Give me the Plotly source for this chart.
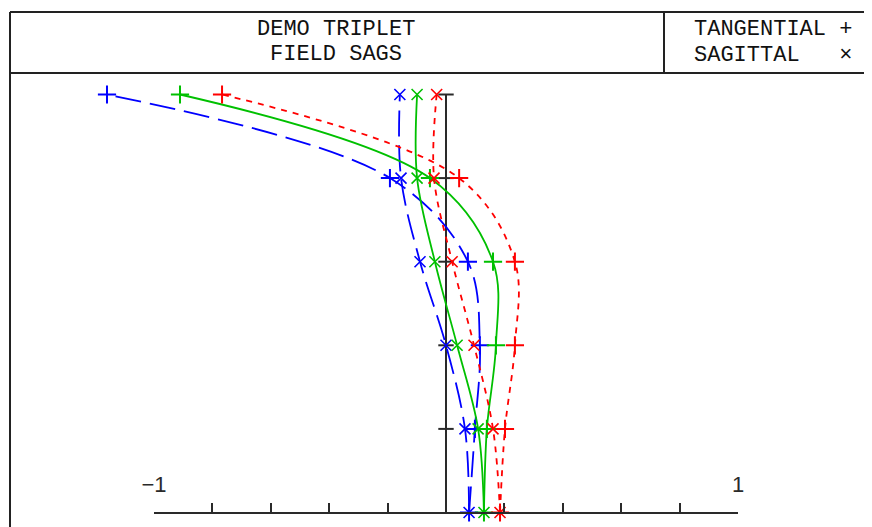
import plotly.graph_objects as go

# ---- data ----
fields = [0.0, 0.2, 0.4, 0.6, 0.8, 1.0]
tan_blue = [0.079, 0.099, 0.116, 0.075, -0.192, -1.161]
sag_blue = [0.079, 0.065, 0.000, -0.089, -0.154, -0.158]
tan_green = [0.130, 0.140, 0.171, 0.161, -0.055, -0.911]
sag_green = [0.130, 0.110, 0.038, -0.038, -0.099, -0.099]
tan_red = [0.185, 0.202, 0.236, 0.236, 0.045, -0.767]
sag_red = [0.185, 0.161, 0.096, 0.021, -0.041, -0.032]
x_ticks = [-1.0, -0.8, -0.6, -0.4, -0.2, 0.0, 0.2, 0.4, 0.6, 0.8, 1.0]
x_tick_labels = ["\u22121", "1"]
x_label_vals = [-1.0, 1.0]
field_ticks = [0.2, 0.4, 0.6, 0.8, 1.0]
title_lines = ["DEMO TRIPLET", "FIELD SAGS"]
legend_lines = ["TANGENTIAL +", "SAGITTAL   \u00d7"]

OFF = 8                      # page body margin
WIN_W, WIN_H = 872, 527
W, H = WIN_W - OFF, WIN_H - OFF
AX = "#2a2a2a"
MONO = "Liberation Mono, DejaVu Sans Mono, monospace"

def px(x):
    return (x - OFF) / W

def py(y):
    return 1 - (y - OFF) / H

# pixel geometry (window pixels) of the plotting scale
X0, XS = 446.0, 292.0     # x=0 pixel, pixels per unit
Y0, YS = 512.5, 418.0     # y=0 pixel, pixels per unit
left_px, right_px = 11.0, 872.0
top_px, bot_px = 75.0, 525.0
xr = [(left_px - X0) / XS, (right_px - X0) / XS]
yr = [(Y0 - bot_px) / YS, (Y0 - top_px) / YS]

fig = go.Figure()

series = [
    ("#0000ff", tan_blue, sag_blue, "26px,9px"),
    ("#00c000", tan_green, sag_green, "solid"),
    ("#ff0000", tan_red, sag_red, "6px,6px"),
]

# vertical (field) axis
fig.add_trace(go.Scatter(x=[0.0, 0.0], y=[0.0, 1.0], mode="lines",
                         line=dict(color=AX, width=2), hoverinfo="skip",
                         showlegend=False))
fig.add_trace(go.Scatter(x=[0.0] * len(field_ticks), y=field_ticks, mode="markers",
                         marker=dict(symbol="line-ew", size=11,
                                     line=dict(color=AX, width=2)),
                         cliponaxis=False, hoverinfo="skip", showlegend=False))

for color, tan, sag, dash in series:
    for vals, sym, size, lw in ((tan, "cross-thin", 13, 2), (sag, "x-thin", 11, 1.6)):
        fig.add_trace(go.Scatter(
            x=vals, y=fields, mode="lines",
            line=dict(color=color, width=1.8, dash=dash, shape="spline", smoothing=1.0),
            hoverinfo="skip", showlegend=False))
        fig.add_trace(go.Scatter(
            x=vals, y=fields, mode="markers",
            marker=dict(symbol=sym, size=size, line=dict(color=color, width=lw)),
            cliponaxis=False, hoverinfo="skip", showlegend=False))

# bottom axis labels on the [-1, 1] axis
fig.add_trace(go.Scatter(
    x=x_label_vals, y=[(Y0 - 486) / YS] * 2, mode="text", text=x_tick_labels,
    textfont=dict(family="Liberation Sans, Arial, sans-serif", size=22, color=AX),
    xaxis="x2", yaxis="y", cliponaxis=False, hoverinfo="skip", showlegend=False))

fig.update_layout(
    width=W, height=H,
    margin=dict(l=0, r=0, t=0, b=0),
    paper_bgcolor="white", plot_bgcolor="rgba(0,0,0,0)",
    xaxis=dict(domain=[px(left_px), px(right_px)], range=xr, visible=False),
    yaxis=dict(domain=[py(bot_px), py(top_px)], range=yr, visible=False),
    xaxis2=dict(domain=[px(X0 - XS), px(X0 + XS)], range=[-1, 1],
                anchor="free", position=py(Y0), showline=True, linecolor=AX,
                linewidth=2, ticks="inside", tickvals=x_ticks, ticklen=9,
                tickwidth=2, tickcolor=AX, showticklabels=False,
                showgrid=False, zeroline=False),
)

# frame
line = dict(color="#222222", width=2)
shapes = [
    dict(type="line", xref="paper", yref="paper", x0=px(10), x1=px(WIN_W + 2), y0=py(12), y1=py(12), line=line),
    dict(type="line", xref="paper", yref="paper", x0=px(10), x1=px(WIN_W + 2), y0=py(73), y1=py(73), line=line),
    dict(type="line", xref="paper", yref="paper", x0=px(10), x1=px(10), y0=py(12), y1=py(WIN_H + 2), line=line),
    dict(type="line", xref="paper", yref="paper", x0=px(664), x1=px(664), y0=py(12), y1=py(73), line=line),
]
fig.update_layout(shapes=shapes)

ann = []
for txt, yy in zip(title_lines, [30, 54.5]):
    ann.append(dict(text=txt, xref="paper", yref="paper", x=px(336), y=py(yy),
                    xanchor="center", yanchor="middle", showarrow=False,
                    font=dict(family=MONO, size=22, color="#111111")))
for txt, yy in zip(legend_lines, [29, 56]):
    ann.append(dict(text=txt.replace(" ", "\u00a0"), xref="paper", yref="paper", x=px(692), y=py(yy),
                    xanchor="left", yanchor="middle", showarrow=False,
                    font=dict(family=MONO, size=22, color="#111111")))
fig.update_layout(annotations=ann)

fig.write_html("out.html")
